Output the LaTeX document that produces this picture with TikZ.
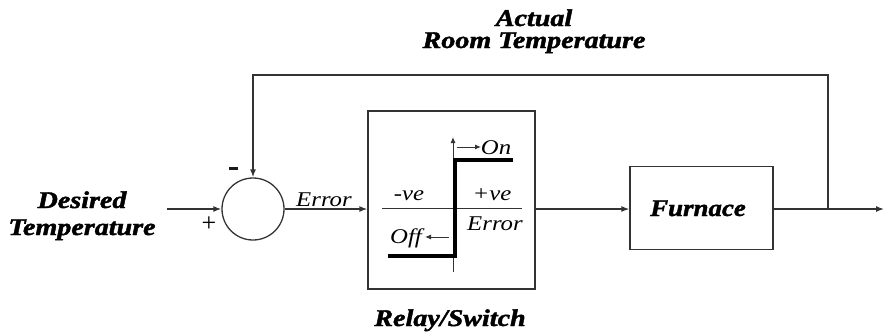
\documentclass[tikz,border=0pt]{standalone}
\usepackage{fontspec}
\setmainfont{Liberation Serif}[BoldItalicFeatures={FakeBold=1.6}]
\usetikzlibrary{arrows.meta}
\newcommand{\wbig}[1]{\scalebox{1.17}[1]{#1}}
\newcommand{\wsml}[1]{\scalebox{1.18}[1]{#1}}
\begin{document}
\begin{tikzpicture}[x=1pt,y=-1pt,
  ln/.style={draw=black!80,line width=1.3pt},
  arr/.style={ln,-{Latex[length=8pt,width=6pt]}},
  sarr/.style={draw=black!80,line width=1pt,-{Latex[length=6pt,width=5pt]}},
  big/.style={inner sep=0,anchor=base,align=center,font=\fontsize{24}{22}\selectfont\bfseries\itshape},
  small/.style={inner sep=0,anchor=base,font=\fontsize{21}{23}\selectfont\itshape},
  blk/.style={draw=black!80,line width=1.3pt,rectangle,inner sep=0}]
\useasboundingbox (0,0) rectangle (886,333);
% blocks
\node[draw=black!80,line width=1.3pt,circle,minimum size=62pt,inner sep=0] (sum) at (253,209) {};
\node[blk,minimum width=167pt,minimum height=178pt] (relay) at (451.5,200) {};
\node[blk,minimum width=143pt,minimum height=83pt] (furn) at (701.5,208) {};
\node[big] (furnlbl) at (698,216) {\scalebox{1.12}[1]{Furnace}};
% labels
\node[big] (act) at (534,48) {\wbig{Actual}\\\wbig{Room Temperature}};
\node[big,font=\fontsize{24}{27}\selectfont\bfseries\itshape] (des) at (82,235) {\wbig{Desired}\\\wbig{Temperature}};
\node[big] (rs) at (450,326) {\wbig{Relay/Switch}};
\node[small] (err) at (324,206) {\wsml{Error}};
\node[inner sep=0,font=\fontsize{26}{26}\selectfont] (plus) at (209,224) {+};
\node[draw=black!90,fill=black!90,minimum width=8pt,minimum height=2.5pt,inner sep=0] (minus) at (233,168) {};
% connectors
\coordinate (in) at (167,209);
\coordinate (out) at (884,209);
\coordinate (j) at (828,209);
\coordinate (fbk) at (253,75);
\draw[arr] (in) -- (sum.west);
\draw[arr] (sum.east) -- (sum.east -| relay.west);
\draw[arr] (sum.east -| relay.east) -- (sum.east -| furn.west);
\draw[ln] (sum.east -| furn.east) -- (j);
\draw[arr] (j) -- (out);
\draw[arr] (j) |- (fbk) -- (sum.north);
% relay characteristic
\coordinate (hl) at (382,208);
\coordinate (hr) at (522,208);
\coordinate (vb) at (453,272);
\coordinate (vt) at (453,137);
\draw[ln,line width=1pt] (hl) -- (hr);
\draw[sarr] (vb) -- (vt);
\coordinate (c1) at (388,256);
\coordinate (c2) at (455,256);
\coordinate (c3) at (455,160);
\coordinate (c4) at (513,160);
\draw[line width=4pt,line cap=butt,line join=miter] (c1) -- (c2) -- (c3) -- (c4);
\coordinate (ona) at (457,147);
\coordinate (onb) at (481,147);
\draw[sarr] (ona) -- (onb);
\coordinate (offa) at (449,237);
\coordinate (offb) at (425,237);
\draw[sarr] (offa) -- (offb);
\node[small] (on) at (496,154) {\wsml{On}};
\node[small] (off) at (406,243) {\wsml{Off}};
\node[small] (neg) at (409,200) {\wsml{-ve}};
\node[small] (pos) at (492,200) {\wsml{+ve}};
\node[small] (err2) at (495,230) {\wsml{Error}};
\end{tikzpicture}
\end{document}
